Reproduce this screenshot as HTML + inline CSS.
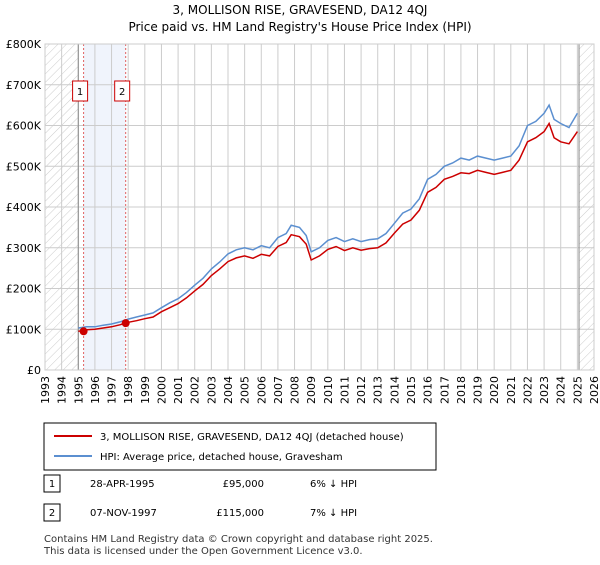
<!DOCTYPE html>
<html><head><meta charset="utf-8"><style>
body{margin:0;background:#fff;font-family:"Liberation Sans","DejaVu Sans",sans-serif;}
svg text{font-family:"DejaVu Sans","Liberation Sans",sans-serif;}
</style></head><body>
<svg id="c" width="600" height="560" xmlns="http://www.w3.org/2000/svg">
<defs><pattern id="h" width="6" height="6" patternUnits="userSpaceOnUse" patternTransform="rotate(45)"><line x1="0" y1="0" x2="0" y2="6" stroke="#ccc" stroke-width="1"/></pattern></defs>
<text x="300" y="14" text-anchor="middle" font-size="12">3, MOLLISON RISE, GRAVESEND, DA12 4QJ</text>
<text x="300" y="31" text-anchor="middle" font-size="12">Price paid vs. HM Land Registry's House Price Index (HPI)</text>
<g id="plot"></g>
<rect x="44" y="423" width="392" height="47" fill="#fff" stroke="#000" stroke-width="1"/>
<line x1="54" y1="436" x2="92" y2="436" stroke="#cc0000" stroke-width="2"/>
<text x="100" y="440" font-size="10">3, MOLLISON RISE, GRAVESEND, DA12 4QJ (detached house)</text>
<line x1="54" y1="456" x2="92" y2="456" stroke="#5b8fd0" stroke-width="2"/>
<text x="100" y="460" font-size="10">HPI: Average price, detached house, Gravesham</text>
<rect x="44" y="475" width="16" height="17" fill="#fff" stroke="#000"/>
<text x="52" y="487" text-anchor="middle" font-size="10">1</text>
<text x="90" y="487" font-size="10">28-APR-1995</text>
<text x="264" y="487" text-anchor="end" font-size="10">£95,000</text>
<text x="310" y="487" font-size="10">6% ↓ HPI</text>
<rect x="44" y="504" width="16" height="17" fill="#fff" stroke="#000"/>
<text x="52" y="516" text-anchor="middle" font-size="10">2</text>
<text x="90" y="516" font-size="10">07-NOV-1997</text>
<text x="264" y="516" text-anchor="end" font-size="10">£115,000</text>
<text x="310" y="516" font-size="10">7% ↓ HPI</text>
<text x="44" y="542" font-size="10" fill="#333">Contains HM Land Registry data © Crown copyright and database right 2025.</text>
<text x="44" y="554" font-size="10" fill="#333">This data is licensed under the Open Government Licence v3.0.</text>
</svg>
<script>
const years=[1995,1995.5,1996,1996.5,1997,1997.5,1998,1998.5,1999,1999.5,2000,2000.5,2001,2001.5,2002,2002.5,2003,2003.5,2004,2004.5,2005,2005.5,2006,2006.5,2007,2007.5,2007.8,2008.3,2008.7,2009,2009.5,2010,2010.5,2011,2011.5,2012,2012.5,2013,2013.5,2014,2014.5,2015,2015.5,2016,2016.5,2017,2017.5,2018,2018.5,2019,2019.5,2020,2020.5,2021,2021.5,2022,2022.5,2023,2023.3,2023.6,2024,2024.5,2025];
const hpi=[103,106,106,110,113,118,125,130,135,140,153,165,175,190,208,225,248,265,285,295,300,295,305,300,325,335,355,350,330,290,300,318,325,315,322,315,320,322,335,360,385,395,420,468,480,500,508,520,515,525,520,515,520,525,550,600,610,630,650,615,605,595,630];
const price=[95,99,100,103,106,111,117,121,126,130,143,153,163,177,194,210,232,248,266,275,280,274,284,280,303,313,332,327,309,270,280,296,303,293,300,294,298,300,312,336,358,368,392,436,448,468,475,484,482,490,485,480,485,490,515,560,570,585,605,570,560,555,585];
const sales=[[1995.32,95],[1997.85,115]];
const yTicks=[0,100,200,300,400,500,600,700,800];
const yLabels=["£0","£100K","£200K","£300K","£400K","£500K","£600K","£700K","£800K"];
const xTicks=[1993,1994,1995,1996,1997,1998,1999,2000,2001,2002,2003,2004,2005,2006,2007,2008,2009,2010,2011,2012,2013,2014,2015,2016,2017,2018,2019,2020,2021,2022,2023,2024,2025,2026];
const L=45,R=594,T=44,B=370;
const X=v=>L+(v-1993)/33*(R-L), Y=v=>B-v/800*(B-T);
const NS="http://www.w3.org/2000/svg", g=document.getElementById('plot');
function mk(t,a){const e=document.createElementNS(NS,t);for(const k in a)e.setAttribute(k,a[k]);g.appendChild(e);return e;}
let e;
e=mk('rect',{x:X(1993),y:T,width:X(1995)-X(1993),height:B-T,fill:'url(#h)'});


e=mk('rect',{x:X(2025.1),y:T,width:R-X(2025.1),height:B-T,fill:'url(#h)'});


e=mk('rect',{x:X(sales[0][0]),y:T,width:X(sales[1][0])-X(sales[0][0]),height:B-T,fill:'#f0f4fc'});


xTicks.forEach((t,i)=>{
 e=mk('line',{x1:X(t),x2:X(t),y1:T,y2:B,stroke:'#ccc','stroke-width':1});
 
 
 e=mk('text',{x:0,y:0,transform:`translate(${X(t)+4},${B+6}) rotate(-90)`,'text-anchor':'end','font-size':11});
 e.textContent=t;
 
 
});
yTicks.forEach((t,i)=>{
 e=mk('line',{x1:L,x2:R,y1:Y(t),y2:Y(t),stroke:'#ccc','stroke-width':1});
 
 
 e=mk('text',{x:L-4,y:Y(t)+4,'text-anchor':'end','font-size':11});
 e.textContent=yLabels[i];
 
 
});
e=mk('line',{x1:X(1995),x2:X(1995),y1:T,y2:B,stroke:'#888'});


e=mk('line',{x1:X(2025.1),x2:X(2025.1),y1:T,y2:B,stroke:'#888'});


sales.forEach((s,i)=>{
 e=mk('line',{x1:X(s[0]),x2:X(s[0]),y1:T,y2:B,stroke:'#e06060','stroke-dasharray':'2,2'});
 
 
});
e=mk('path',{d:years.map((y,i)=>(i?'L':'M')+X(y).toFixed(1)+','+Y(hpi[i]).toFixed(1)).join(''),fill:'none',stroke:'#5b8fd0','stroke-width':1.5});


e=mk('path',{d:years.map((y,i)=>(i?'L':'M')+X(y).toFixed(1)+','+Y(price[i]).toFixed(1)).join(''),fill:'none',stroke:'#cc0000','stroke-width':1.5});


sales.forEach((s,i)=>{
 e=mk('circle',{cx:X(s[0]),cy:Y(s[1]),r:4,fill:'#cc0000'});
 
 
 const bx=X(s[0])-10;
 e=mk('rect',{x:bx-1,y:81,width:15,height:20,fill:'#fff',stroke:'#cc0000'});
 
 
 e=mk('text',{x:bx+6.5,y:95,'text-anchor':'middle','font-size':10});
 e.textContent=String(i+1);
 
 
});
e=mk('rect',{x:L,y:T,width:R-L,height:B-T,fill:'none',stroke:'#ccc'});


</script>
</body></html>
